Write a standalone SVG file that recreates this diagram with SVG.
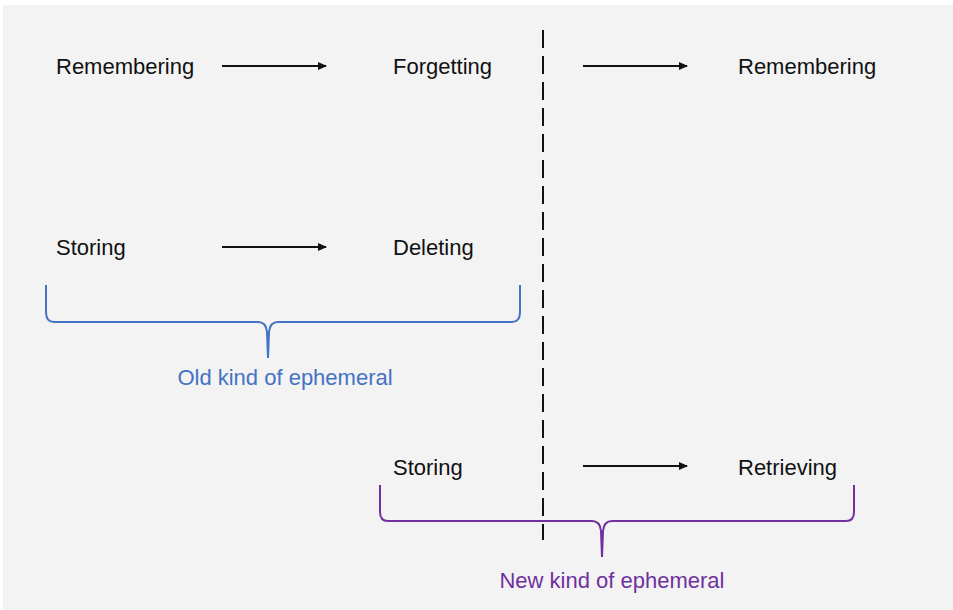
<svg xmlns="http://www.w3.org/2000/svg" width="953" height="610" viewBox="0 0 953 610">
<style>
.t{font-family:"Liberation Sans",Arial,sans-serif;font-size:22px;fill:#111}
.blue{fill:#4472c4}
.purple{fill:#7030a0}
.arr{stroke:#111;stroke-width:2;fill:none}
</style>
<defs>
<marker id="ah" markerWidth="9" markerHeight="9" refX="8" refY="4.5" orient="auto" markerUnits="userSpaceOnUse">
<path d="M0,0.5 L9,4.5 L0,8.5 Z" fill="#111"/>
</marker>
</defs>
<rect width="953" height="610" fill="#ffffff"/>
<rect x="3" y="5" width="950" height="605" fill="#f3f3f3"/>
<g id="connectors">
<line class="arr" x1="222" y1="66" x2="326" y2="66" marker-end="url(#ah)"/>
<line class="arr" x1="583" y1="66" x2="687" y2="66" marker-end="url(#ah)"/>
<line class="arr" x1="222" y1="247" x2="326" y2="247" marker-end="url(#ah)"/>
<line class="arr" x1="583" y1="466" x2="687" y2="466" marker-end="url(#ah)"/>
</g>
<g id="divider">
<line x1="543" y1="30" x2="543" y2="540" stroke="#111" stroke-width="2" stroke-dasharray="18 8"/>
</g>
<g id="n-remembering1"><text class="t" x="56" y="74">Remembering</text></g>
<g id="n-forgetting"><text class="t" x="393" y="74">Forgetting</text></g>
<g id="n-remembering2"><text class="t" x="738" y="74">Remembering</text></g>
<g id="n-storing1"><text class="t" x="56" y="255">Storing</text></g>
<g id="n-deleting"><text class="t" x="393" y="255">Deleting</text></g>
<g id="n-storing2"><text class="t" x="393" y="475">Storing</text></g>
<g id="n-retrieving"><text class="t" x="738" y="475">Retrieving</text></g>
<g id="old-bracket">
<path d="M46,285 L46,312 Q46,322 54,322 L258,322 Q266,322 267,332 L268,358 L269,332 Q270,322 278,322 L512,322 Q520,322 520,312 L520,285" fill="none" stroke="#4472c4" stroke-width="2"/>
<text class="t blue" x="285" y="385" text-anchor="middle">Old kind of ephemeral</text>
</g>
<g id="new-bracket">
<path d="M380,485 L380,512 Q380,521 388,521 L592,521 Q600,521 601,531 L602,557 L603,531 Q604,521 612,521 L846,521 Q854,521 854,512 L854,485" fill="none" stroke="#7030a0" stroke-width="2"/>
<text class="t purple" x="612" y="588" text-anchor="middle">New kind of ephemeral</text>
</g>
</svg>
